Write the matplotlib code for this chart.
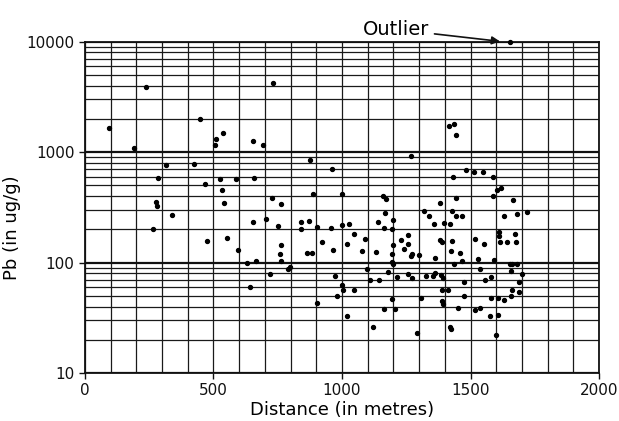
import numpy as np
import matplotlib
matplotlib.use("Agg")
import matplotlib.pyplot as plt
from matplotlib.ticker import LogLocator, NullFormatter, FixedLocator

plt.rcParams['font.family'] = 'DejaVu Sans'

# distance along the transect (m) and lead concentration (ug/g)
distance = [95, 193, 236, 449, 537, 512, 506, 654, 694, 317,
            423, 283, 524, 589, 659, 468, 535, 278, 282, 540,
            339, 655, 266, 475, 553, 595, 632, 664, 642, 761,
            706, 751, 842, 872, 839, 904, 959, 1000, 1026, 1048,
            1088, 1140, 1169, 1198, 1196, 1200, 1193, 1193, 1200, 1231,
            1257, 1258, 1241, 1272, 1267, 1300, 1319, 1337, 1357, 924,
            964, 1021, 1079, 1132, 764, 758, 763, 865, 882, 790,
            799, 719, 972, 1000, 1004, 1048, 979, 902, 1019, 1122,
            1099, 1107, 1143, 1177, 1212, 1195, 1165, 1205, 1257, 1274,
            1309, 1291, 1352, 732, 877, 1270, 961, 728, 889, 1000,
            1161, 1173, 1655, 1415, 1436, 1443, 1483, 1514, 1547, 1433,
            1586, 1602, 1620, 1588, 1443, 1664, 1380, 1426, 1443, 1467,
            1397, 1419, 1380, 1387, 1426, 1423, 1458, 1361, 1436, 1468,
            1519, 1553, 1527, 1591, 1611, 1610, 1614, 1643, 1672, 1676,
            1629, 1681, 1721, 1652, 1661, 1680, 1656, 1700, 1361, 1384,
            1393, 1325, 1537, 1579, 1555, 1474, 1690, 1389, 1412, 1661,
            1688, 1475, 1579, 1607, 1630, 1656, 1387, 1393, 1451, 1516,
            1538, 1575, 1605, 1419, 1423, 1598, 1164]
pb = [1650, 1090, 3850, 2000, 1500, 1310, 1150, 1265, 1160, 760,
      780, 580, 570, 570, 585, 515, 453, 357, 322, 345,
      270, 234, 200, 157, 168, 131, 99, 104, 60, 336,
      249, 215, 231, 240, 201, 208, 207, 220, 224, 182,
      163, 231, 281, 244, 201, 145, 119, 102, 97, 161,
      178, 147, 134, 120, 114, 116, 294, 266, 223, 155,
      129, 146, 127, 124, 145, 119, 104, 123, 121, 88,
      92, 79, 75, 62, 57, 56, 50, 43, 33, 26,
      88, 69, 69, 83, 74, 47, 38, 38, 79, 72,
      48, 23, 76, 4200, 850, 925, 705, 385, 422, 422,
      400, 375, 10000, 1730, 1800, 1430, 687, 654, 667, 597,
      597, 456, 472, 403, 384, 368, 343, 290, 265, 265,
      227, 224, 161, 154, 157, 128, 123, 111, 97, 104,
      164, 147, 108, 105, 191, 175, 152, 153, 183, 155,
      266, 277, 287, 97, 98, 97, 84, 79, 81, 77,
      72, 76, 88, 74, 70, 67, 67, 57, 56, 57,
      54, 50, 48, 48, 46, 50, 45, 42, 39, 37,
      39, 33, 33.5, 26, 25, 22, 205]

x_ticks = [0, 500, 1000, 1500, 2000]
y_ticks = [10, 100, 1000, 10000]
y_tick_labels = ['10', '100', '1000', '10000']

fig = plt.figure(figsize=(6.19, 4.21), dpi=100)
ax = fig.add_axes([0.137, 0.114, 0.831, 0.787])

ax.set_yscale('log')
ax.set_xlim(0, 2000)
ax.set_ylim(10, 10000)

# graph-paper grid: every 100 m across, every log subdivision up
ax.xaxis.set_minor_locator(FixedLocator(np.arange(0, 2001, 100)))
ax.yaxis.set_minor_locator(LogLocator(base=10, subs=np.arange(2, 10)))
ax.yaxis.set_minor_formatter(NullFormatter())
ax.grid(which='minor', color='#1a1a1a', linewidth=0.9)
ax.grid(which='major', axis='y', color='#111111', linewidth=1.6)
ax.grid(which='major', axis='x', color='#1a1a1a', linewidth=0.9)
ax.set_axisbelow(True)

ax.scatter(distance, pb, s=8, color='black', zorder=3, clip_on=False)

ax.set_xticks(x_ticks)
ax.set_yticks(y_ticks)
ax.set_yticklabels(y_tick_labels)
ax.tick_params(which='major', direction='out', length=4, width=1, labelsize=11, colors='#111111')
ax.tick_params(which='minor', length=0)
for s in ax.spines.values():
    s.set_linewidth(1.3)
    s.set_color('#111111')

ax.set_xlabel('Distance (in metres)', fontsize=13, labelpad=2)
ax.set_ylabel('Pb (in ug/g)', fontsize=13)
ax.yaxis.set_label_coords(-0.125, 0.44)

ax.annotate('Outlier', xy=(1625, 10000), xytext=(1080, 12900),
            fontsize=14, ha='left', va='center', annotation_clip=False,
            arrowprops=dict(arrowstyle='-|>', color='#111111', lw=1.2,
                            mutation_scale=12, shrinkA=2, shrinkB=2))

fig.savefig('out.png', dpi=100)
